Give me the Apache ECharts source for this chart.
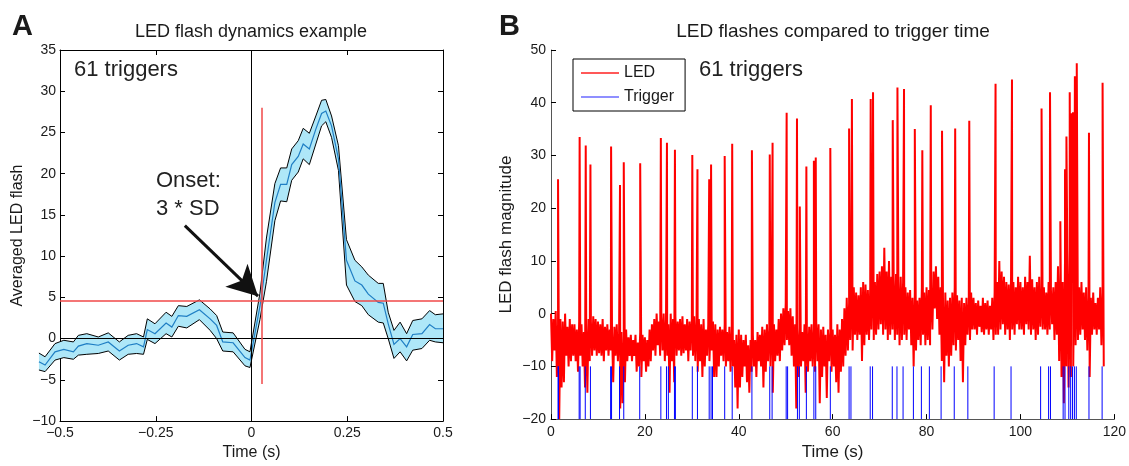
<!DOCTYPE html>
<html>
<head>
<meta charset="utf-8">
<script src="https://cdn.jsdelivr.net/npm/echarts@6/dist/echarts.min.js"></script>
<style>
  html, body { margin: 0; padding: 0; background: #fff; }
  #chart { width: 1129px; height: 466px; }
</style>
</head>
<body>
<div id="chart"></div>
<script>
// ---- panel A: averaged LED flash around the trigger (mean +/- SD band)
const A_T = [-0.555, -0.539, -0.513, -0.49, -0.465, -0.452, -0.43, -0.4, -0.374, -0.345,
  -0.322, -0.3, -0.282, -0.272, -0.252, -0.223, -0.208, -0.191, -0.169, -0.136,
  -0.108, -0.091, -0.075, -0.048, -0.017, -0.004, 0.022, 0.039, 0.061, 0.076,
  0.092, 0.105, 0.122, 0.135, 0.151, 0.168, 0.183, 0.194, 0.209, 0.227,
  0.248, 0.27, 0.288, 0.305, 0.331, 0.344, 0.357, 0.372, 0.388, 0.405,
  0.421, 0.445, 0.465, 0.48, 0.5];
const A_UP = [-1.75, -2.2, -0.6, -0.2, -0.4, 0.4, 0.6, 0.2, 0.7, -0.4,
  0.4, 0.6, 0.2, 2.4, 1.8, 3.2, 2.7, 4.0, 3.9, 4.7,
  3.6, 2.8, 0.8, 0.7, -1.3, -1.6, 5.5, 12.2, 18.8, 20.7,
  20.7, 23.0, 24.0, 25.5, 24.9, 27.0, 28.9, 29.0, 27.0, 23.4,
  12.0, 9.5, 8.7, 7.7, 6.7, 6.7, 3.2, 1.0, 2.0, 0.6,
  2.2, 2.4, 3.4, 2.9, 3.0];
const A_MEAN = [-2.8, -3.2, -1.6, -1.3, -1.6, -0.9, -0.6, -0.8, -0.4, -1.5,
  -0.8, -0.6, -1.0, 1.1, 0.6, 1.9, 1.4, 2.8, 2.7, 3.5,
  2.4, 1.6, -0.4, -0.5, -2.3, -2.6, 3.9, 9.5, 16.5, 18.7,
  18.7, 21.1, 22.1, 23.6, 23.0, 25.4, 27.3, 27.6, 25.8, 21.8,
  9.5, 7.0, 6.5, 5.4, 4.4, 4.3, 1.8, -0.7, 0.0, -1.0,
  0.5, 0.6, 1.7, 1.2, 1.2];
const A_LO = [-3.8, -4.0, -2.6, -2.3, -2.5, -2.0, -1.9, -1.8, -1.5, -2.6,
  -1.9, -1.8, -1.9, -0.1, -0.6, 0.6, 0.2, 1.5, 1.3, 2.3,
  1.0, 0.0, -1.5, -1.6, -3.3, -3.5, 2.3, 6.9, 14.3, 16.7,
  16.6, 19.2, 20.2, 21.8, 21.1, 23.6, 25.8, 26.3, 24.4, 20.4,
  6.5, 4.5, 4.0, 2.9, 2.0, 1.9, 0.0, -2.4, -1.6, -2.7,
  -1.4, -1.2, -0.2, -0.4, -0.5];
const THRESH = 4.6;               // 3 * SD level
const ONSET_T = 0.028;            // onset time
const ONSET_SPAN = [-5.5, 28];
const ARROW = [[-0.174, 13.7], [0.017, 5.15]];

// ---- panel B: raw LED trace, half-second highs and lows, plus flash peaks
const LED_HI = [
  0, -1, 0.5, -2, -1, -1.5, 0, -2.5, -1, -2,
  -2, -3, -1.5, -2, -3.5, -2, -1, -1.5, -0.5, -1,
  -1.5, -2, -1, -2.5, -2, -3, -3.5, -2.5, -2, -4,
  -3.5, -4, -3, -4.5, -4, -5, -4, -5.5, -3.5, -4,
  -4.5, -5, -3, -2, -1, 0, -1.5, -0.5, 0, -1,
  -2, 0, -1, -0.5, -1.5, -1, -0.5, -2, -1, -1.5,
  -1, -0.5, -1.5, -1, -2, -1, -3, -2, -2.5, -1.5,
  -2, -3, -2.5, -3, -2, -3.5, -2.5, -3, -5, -4,
  -3, -4, -5, -4, -6, -5, -4, -5, -3.5, -4,
  -2.5, -3, -2, -3, -1.5, -2, -3, -1, 0, 1,
  2, 0.5, 1, -0.5, -2, -3, -2.5, -3.5, -2, -3,
  -2.5, -2, -3, -1.5, -2, -3, -2.5, -4, -3, -3.5,
  -3, -4, -2, -3, -1, 1, 3, 2, 4, 5,
  4, 3.5, 5, 6, 5.5, 4.5, 5, 7, 6, 7.5,
  8, 9, 12.5, 8, 10, 7, 6.5, 7.5, 6, 7,
  6, 5, 4, 4.5, 3, 4, 2.5, 3, 5, 4,
  5, 4.5, 4, 8, 9, 7, 5, 3, 4, 2.5,
  3, 4, 5, 3.5, 2.5, 3, 2, 3, 2, 4,
  3, 2, 2.5, 1.5, 3, 2, 2.5, 1.5, 3, 4,
  6, 10, 8, 7, 6, 5.5, 7, 6, 5, 7,
  6, 5, 7, 6, 11, 6.5, 5, 6, 7, 5,
  5, 4, 6, 4.5, 5, 6, 9, 8, 6, 11,
  10, 12, 8, 11, 7, 5, 6, 4, 5, 3,
  3, 4, 2, 3, 5, 4];
const LED_LO = [
  -9, -7, -12, -20, -14, -13, -8, -10, -9, -8,
  -9, -11, -8, -10, -14, -15, -9, -8, -7, -8,
  -7.5, -8, -9, -7, -8, -7, -13, -8, -9, -18,
  -17, -13, -9, -8, -9, -8, -11, -10, -12, -9,
  -11, -10, -9, -7, -8, -6, -8, -7, -9, -8,
  -15, -9, -13, -8, -7, -8, -7.5, -7, -9, -7,
  -8, -9, -11, -9, -12, -10, -8, -9, -7, -12,
  -12, -10, -8, -9, -10, -9, -11, -10, -14, -18,
  -14, -12, -10, -13, -15, -11, -10, -12, -9, -10,
  -14, -11, -9, -10, -15, -9, -8, -9, -7, -6,
  -5, -6, -8, -10, -18, -12, -10, -9, -15, -11,
  -9, -10, -11, -9, -17, -12, -10, -16, -9, -11,
  -10, -13, -15, -11, -10, -8, -7, -5, -7, -4,
  -5, -4, -9, -6, -4, -5, -3, -5, -4, -3,
  -2, -4, -3, -5, -4, -3, -5, -4, -6, -5,
  -4, -5, -3, -6, -10, -7, -5, -6, -4, -6,
  -5, -6, -3, 1, -1, -4, -9, -13, -8, -10,
  -8, -6, -7, -5, -9, -13, -6, -4, -5, -3,
  -3, -4, -2.5, -3.5, -4, -3, -4, -3, -5, -4,
  -4, -3, -2, -4, -3, -5, -3, -4, -2, -3,
  -3, -4, -2, -3, -4, -3, -5, -4, -2.5, -3,
  -3, -4, -3, -2, -5, -4, -9, -12, -17, -10,
  -14, -12, -10, -6, -5, -4, -3, -5, -7, -12,
  -4, -3, -4, -3, -6, -10];
const SPIKE_T = [1.5, 6.1, 7.4, 8.4, 12.8, 14.7, 15.5, 19.0,
  23.4, 24.7, 26.4, 30.1, 31.2, 33.7, 34.1, 37.0, 38.6,
  42.8, 46.6, 47.2, 50.2, 52.4, 53.0, 54.4, 56.0, 56.4, 59.5,
  63.5, 64.1, 68.1, 68.6, 72.8, 73.8, 75.2, 77.5, 79.1,
  80.9, 83.3, 86.1, 89.1, 94.7, 98.2,
  104.5, 106.3, 108.5, 109.5, 109.8, 110.5, 110.9, 111.2, 111.6, 112.0, 114.6, 117.5];
const SPIKE_V = [25.5, 33.5, 31.9, 28.3, 31.7, 24.4, 28.7, 28.5,
  33.3, 32.4, 31.1, 30.1, 27.4, 25.5, 28.3, 29.9, 32.2,
  31.0, 30.2, 32.4, 38.1, 37.0, 20.3, 27.9, 29.0, 29.6, 31.4,
  35.1, 40.7, 40.7, 42.0, 36.7, 42.9, 42.6, 35.0, 31.0,
  39.5, 34.7, 35.1, 36.6, 43.6, 44.4,
  38.9, 42.0, 17.5, 27.4, 33.6, 42.0, 38.0, 38.2, 45.0, 47.5, 34.3, 43.8];
const TRIGGER_T = [1.5, 1.6, 6.0, 6.2, 7.3, 8.4, 12.7, 12.9, 14.6, 15.5, 18.9,
  23.4, 24.6, 25.0, 26.3, 26.5, 30.1, 31.2, 33.7, 34.1, 34.4, 37.0, 38.6,
  42.8, 46.6, 47.1, 50.1, 50.4, 52.5, 52.9, 54.4, 56.0, 56.4, 59.5,
  63.5, 63.9, 68.0, 68.5, 72.7, 73.7, 75.0, 77.2, 78.9,
  80.6, 83.1, 85.9, 88.8, 94.4, 98.0,
  104.3, 106.0, 106.4, 109.1, 109.5, 110.3, 110.7, 111.1, 111.5, 111.9, 114.6, 117.4];
const TRIG_Y = [-20, -10];

const FONT = '"Liberation Sans", Arial, Helvetica, sans-serif';
const INK = '#1a1a1a';
const minus = (v) => String(v).replace('-', '\u2212');

// build series data
const upLine = A_T.map((t, i) => [t, A_UP[i]]);
const loLine = A_T.map((t, i) => [t, A_LO[i]]);
const meanLine = A_T.map((t, i) => [t, A_MEAN[i]]);

const led = [];
LED_HI.forEach((v, i) => {
  led.push([i * 0.5, v], [i * 0.5 + 0.25, LED_LO[i]]);
});
SPIKE_T.forEach((t, i) => led.push([t, SPIKE_V[i]]));
led.sort((a, b) => a[0] - b[0]);

const trig = [];
TRIGGER_T.forEach((t) => trig.push([t, TRIG_Y[0]], [t, TRIG_Y[1]], [t, '-']));

const tickLabel = { color: INK, fontSize: 14, fontFamily: FONT };
const nameStyle = { color: INK, fontSize: 16, fontFamily: FONT };

function boxAxis(extra) {
  return Object.assign({
    type: 'value',
    axisLine: { onZero: false, lineStyle: { color: '#000', width: 1 } },
    axisTick: { inside: true, length: 5, lineStyle: { color: '#000' } },
    axisLabel: Object.assign({ formatter: minus }, tickLabel),
    splitLine: { show: false },
  }, extra);
}

// SD band (fill + black edges) and mean, drawn once; it runs a bit past the left axis
function renderBand(params, api) {
  if (params.dataIndex !== 0) return null;
  const top = upLine.map((p) => api.coord(p));
  const bottom = loLine.map((p) => api.coord(p));
  const mid = meanLine.map((p) => api.coord(p));
  return {
    type: 'group',
    children: [
      { type: 'polygon', shape: { points: top.concat(bottom.slice().reverse()) },
        style: { fill: '#aee7f8', stroke: null } },
      { type: 'polyline', shape: { points: top }, style: { stroke: '#000', lineWidth: 1, fill: null } },
      { type: 'polyline', shape: { points: bottom }, style: { stroke: '#000', lineWidth: 1, fill: null } },
      { type: 'polyline', shape: { points: mid }, style: { stroke: '#1f7ec4', lineWidth: 1.2, fill: null } },
    ],
  };
}

const chart = echarts.init(document.getElementById('chart'));
chart.setOption({
  animation: false,
  backgroundColor: '#fff',
  grid: [
    { left: 60, top: 50, width: 383, height: 378 },
    { left: 551, top: 50, width: 564, height: 377 },
  ],
  xAxis: [
    boxAxis({ gridIndex: 0, min: -0.5, max: 0.5, interval: 0.25,
      axisLabel: Object.assign({ formatter: minus, margin: 5 }, tickLabel),
      name: 'Time (s)', nameLocation: 'middle', nameGap: 19, nameTextStyle: nameStyle }),
    boxAxis({ gridIndex: 0, position: 'top', min: -0.5, max: 0.5, interval: 0.25,
      axisLabel: { show: false } }),
    boxAxis({ gridIndex: 1, min: 0, max: 120, interval: 20,
      axisLine: { onZero: false, lineStyle: { color: '#555', width: 1 } },
      axisLabel: Object.assign({ formatter: minus, margin: 6 }, tickLabel),
      name: 'Time (s)', nameLocation: 'middle', nameGap: 19,
      nameTextStyle: Object.assign({}, nameStyle, { fontSize: 17 }) }),
  ],
  yAxis: [
    boxAxis({ gridIndex: 0, min: -10, max: 35, interval: 5,
      axisLabel: Object.assign({ formatter: minus, margin: 4 }, tickLabel),
      name: 'Averaged LED flash', nameLocation: 'middle', nameGap: 34, nameTextStyle: nameStyle }),
    boxAxis({ gridIndex: 0, position: 'right', min: -10, max: 35, interval: 5,
      axisLabel: { show: false } }),
    boxAxis({ gridIndex: 1, min: -20, max: 50, interval: 10,
      axisLine: { onZero: false, lineStyle: { color: '#555', width: 1 } },
      axisLabel: Object.assign({ formatter: minus, margin: 5 }, tickLabel),
      name: 'LED flash magnitude', nameLocation: 'middle', nameGap: 36,
      nameTextStyle: Object.assign({}, nameStyle, { fontSize: 17 }) }),
  ],
  legend: {
    data: [
      { name: 'LED', icon: 'rect', itemStyle: { color: '#ff2020' } },
      { name: 'Trigger', icon: 'rect', itemStyle: { color: '#6a6aff' } },
    ],
    orient: 'vertical',
    left: 573,
    top: 59,
    padding: [6, 11, 6, 8],
    itemGap: 8,
    itemWidth: 38,
    itemHeight: 1.5,
    borderColor: '#000',
    borderWidth: 1,
    backgroundColor: '#fff',
    textStyle: { color: INK, fontSize: 16, fontFamily: FONT, lineHeight: 16 },
  },
  graphic: [
    { type: 'text', x: 12, y: 27, style: { text: 'A', font: 'bold 29px ' + FONT, fill: INK, align: 'left', verticalAlign: 'middle' } },
    { type: 'text', x: 499, y: 27, style: { text: 'B', font: 'bold 29px ' + FONT, fill: INK, align: 'left', verticalAlign: 'middle' } },
    { type: 'text', x: 251, y: 32, style: { text: 'LED flash dynamics example', font: '18px ' + FONT, fill: INK, align: 'center', verticalAlign: 'middle' } },
    { type: 'text', x: 833, y: 32, style: { text: 'LED flashes compared to trigger time', font: '19px ' + FONT, fill: INK, align: 'center', verticalAlign: 'middle' } },
    { type: 'text', x: 74, y: 70, style: { text: '61 triggers', font: '22px ' + FONT, fill: '#222', align: 'left', verticalAlign: 'middle' } },
    { type: 'text', x: 699, y: 70, style: { text: '61 triggers', font: '22px ' + FONT, fill: '#222', align: 'left', verticalAlign: 'middle' } },
    { type: 'text', x: 156, y: 181, style: { text: 'Onset:', font: '22px ' + FONT, fill: '#222', align: 'left', verticalAlign: 'middle' } },
    { type: 'text', x: 156, y: 209, style: { text: '3 * SD', font: '22px ' + FONT, fill: '#222', align: 'left', verticalAlign: 'middle' } },
  ],
  series: [
    {
      type: 'custom', xAxisIndex: 0, yAxisIndex: 0, data: [meanLine[0]],
      renderItem: renderBand, clip: false, silent: true, z: 2,
    },
    {
      // reference lines and the onset arrow
      type: 'line', xAxisIndex: 0, yAxisIndex: 0, data: [],
      symbol: 'none', z: 5,
      markLine: {
        silent: true, animation: false, symbol: 'none',
        label: { show: false },
        data: [
          { xAxis: 0, lineStyle: { color: '#000', width: 1, type: 'solid' } },
          { yAxis: 0, lineStyle: { color: '#000', width: 1, type: 'solid' } },
          { yAxis: THRESH, lineStyle: { color: '#f04848', width: 1.5, type: 'solid' } },
          [
            { coord: [ONSET_T, ONSET_SPAN[0]], lineStyle: { color: '#f04848', width: 1.5, type: 'solid' } },
            { coord: [ONSET_T, ONSET_SPAN[1]] },
          ],
          [
            { coord: ARROW[0], symbol: 'none', lineStyle: { color: '#111', width: 3, type: 'solid' } },
            { coord: ARROW[1], symbol: 'arrow', symbolSize: [24, 30] },
          ],
        ],
      },
    },
    {
      name: 'LED', type: 'line', xAxisIndex: 2, yAxisIndex: 2, data: led,
      symbol: 'none', sampling: 'none', z: 3, color: '#ff0000',
      lineStyle: { color: '#ff0000', width: 2 },
    },
    {
      name: 'Trigger', type: 'line', xAxisIndex: 2, yAxisIndex: 2, data: trig,
      symbol: 'none', connectNulls: false, z: 4, color: '#0000ff',
      lineStyle: { color: '#0000ff', width: 1 },
    },
  ],
});
</script>
</body>
</html>
